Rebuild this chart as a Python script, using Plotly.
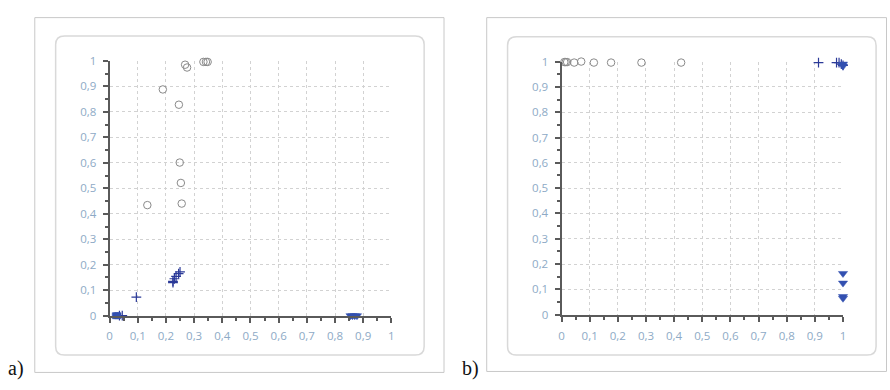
import plotly.graph_objects as go

# ---- panel a) ----
a_circle_x = [0.134, 0.189, 0.246, 0.249, 0.253, 0.256, 0.268, 0.275, 0.333, 0.342, 0.348]
a_circle_y = [0.434, 0.888, 0.828, 0.601, 0.521, 0.440, 0.985, 0.974, 0.996, 0.996, 0.996]

a_cross_x = [0.035, 0.045, 0.095, 0.225, 0.225, 0.230, 0.236, 0.245, 0.250]
a_cross_y = [0.0, 0.0, 0.073, 0.130, 0.135, 0.145, 0.154, 0.165, 0.172]

a_square_x = [0.020, 0.025, 0.030]
a_square_y = [0.0, 0.0, 0.0]

a_tri_x = [0.855, 0.862, 0.870, 0.878]
a_tri_y = [0.0, 0.0, 0.0, 0.0]

# ---- panel b) ----
b_circle_x = [0.010, 0.015, 0.020, 0.045, 0.070, 0.115, 0.176, 0.284, 0.425]
b_circle_y = [0.998, 0.998, 0.998, 0.996, 1.0, 0.996, 0.996, 0.996, 0.996]

b_cross_x = [0.913, 0.977, 0.986, 0.994, 1.0]
b_cross_y = [0.996, 0.996, 0.996, 0.990, 0.985]

b_tri_x = [1.0, 1.0, 1.0, 1.0, 1.0, 1.0]
b_tri_y = [0.990, 0.982, 0.163, 0.125, 0.072, 0.065]

tick_vals = [round(i * 0.1, 1) for i in range(11)]

W, H = 890, 390
GREY = "#8a8a8a"
BLUE_CROSS = "#2b3a98"
BLUE_FILL = "#3350b0"

fig = go.Figure()


def add_points(x, y, xa, ya, symbol, color, size, line_w=1.0):
    fig.add_trace(go.Scatter(
        x=x, y=y, xaxis=xa, yaxis=ya, mode="markers", cliponaxis=False,
        showlegend=False, hoverinfo="x+y",
        marker=dict(symbol=symbol, size=size, color=color,
                    line=dict(color=color, width=line_w)),
    ))


# panel a
add_points(a_circle_x, a_circle_y, "x", "y", "circle-open", GREY, 7.5, 1.0)
add_points(a_cross_x, a_cross_y, "x", "y", "cross-thin-open", BLUE_CROSS, 7, 1.2)
add_points(a_square_x, a_square_y, "x", "y", "square", BLUE_FILL, 6, 0.5)
add_points(a_tri_x, a_tri_y, "x", "y", "triangle-down", BLUE_FILL, 8, 0.5)

# panel b
add_points(b_circle_x, b_circle_y, "x2", "y2", "circle-open", GREY, 7.5, 1.0)
add_points(b_cross_x, b_cross_y, "x2", "y2", "cross-thin-open", BLUE_CROSS, 7, 1.2)
add_points(b_tri_x, b_tri_y, "x2", "y2", "triangle-down", BLUE_FILL, 8, 0.5)


def px_x(v):
    return v / W


def px_y(v):
    return 1 - v / H


def axis_style(domain, anchor):
    return dict(
        domain=domain, anchor=anchor, range=[0, 1],
        tickmode="array", tickvals=tick_vals,
        ticks="outside", ticklen=5, tickwidth=1.5, tickcolor="#5a5a5a",
        showline=True, linecolor="#5a5a5a", linewidth=2,
        showgrid=True, gridcolor="#d2d2d2", griddash="dot", gridwidth=1,
        zeroline=False,
        minor=dict(dtick=0.05, tick0=0, ticks="outside", ticklen=3,
                   tickwidth=1.5, tickcolor="#5a5a5a", showgrid=False),
        tickfont=dict(family="Open Sans", size=11.5, color="#8eaac6"),
        ticklabelstandoff=4,
        fixedrange=True,
    )


layout = dict(
    width=W, height=H, margin=dict(l=0, r=0, t=0, b=0),
    paper_bgcolor="white", plot_bgcolor="white",
    separators=", ",
    xaxis=axis_style([px_x(107.3), px_x(391.0)], "y"),
    yaxis=axis_style([px_y(320.0), px_y(55.0)], "x"),
    xaxis2=axis_style([px_x(562.3), px_x(845.7)], "y2"),
    yaxis2=axis_style([px_y(319.0), px_y(55.7)], "x2"),
)
fig.update_layout(**layout)


def rounded_path(x0, y0, x1, y1, r):
    rx, ry = r / W, r / H
    X0, X1 = px_x(x0), px_x(x1)
    Y0, Y1 = px_y(y0), px_y(y1)
    return (f"M {X0+rx},{Y0} L {X1-rx},{Y0} Q {X1},{Y0} {X1},{Y0-ry} "
            f"L {X1},{Y1+ry} Q {X1},{Y1} {X1-rx},{Y1} "
            f"L {X0+rx},{Y1} Q {X0},{Y1} {X0},{Y1+ry} "
            f"L {X0},{Y0-ry} Q {X0},{Y0} {X0+rx},{Y0} Z")


# outer frames
for (x0, y0, x1, y1) in [(32, 10, 444, 379), (487, 10, 889.5, 378)]:
    fig.add_shape(type="rect", xref="paper", yref="paper",
                  x0=px_x(x0), x1=px_x(x1), y0=px_y(y1), y1=px_y(y0),
                  line=dict(color="#c8c8c8", width=1), layer="below")

# inner rounded panels
for (x0, y0, x1, y1) in [(53, 29, 424, 361), (508, 30, 879, 361)]:
    fig.add_shape(type="path", xref="paper", yref="paper",
                  path=rounded_path(x0, y0, x1, y1, 9),
                  line=dict(color="#d9d9d9", width=1.5), layer="below")

# panel letters
for text, x in [("a)", 3), ("b)", 460)]:
    fig.add_annotation(text=text, xref="paper", yref="paper",
                       x=px_x(x), y=px_y(389), xanchor="left", yanchor="bottom",
                       showarrow=False,
                       font=dict(family="Liberation Serif", size=20, color="#111111"))

fig.write_html("out.html")
